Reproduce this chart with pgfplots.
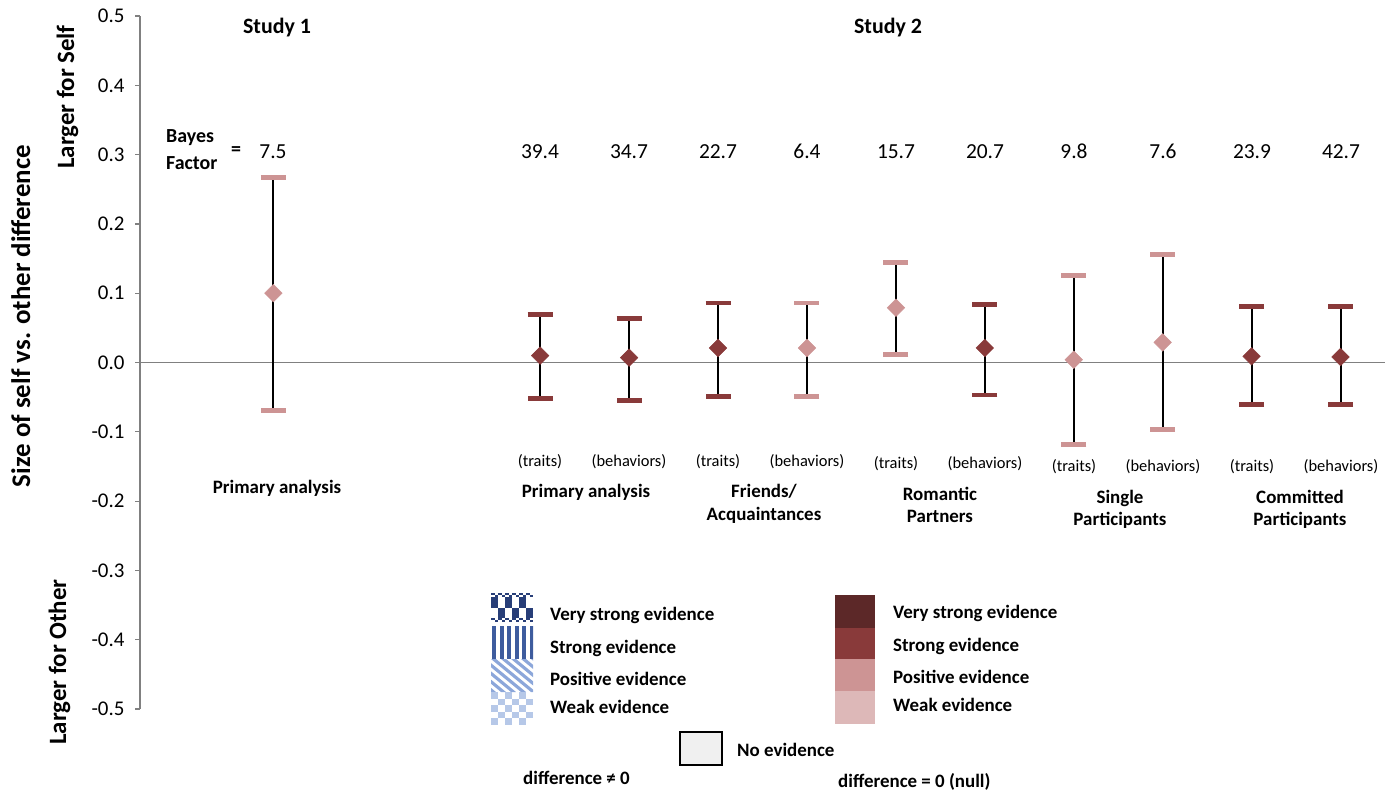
\documentclass[border=0pt]{standalone}
\usepackage{fontspec}
\setmainfont{Carlito}
\usepackage{pgfplots}
\usepackage{pgfplotstable}
\pgfplotsset{compat=1.18}
\newcommand{\fs}[1]{\fontsize{#1}{#1}\selectfont}
\definecolor{vstrong}{RGB}{92,40,40}
\definecolor{strong}{RGB}{137,58,58}
\definecolor{positive}{RGB}{205,148,148}
\definecolor{weak}{RGB}{221,184,184}
\definecolor{axisgray}{RGB}{128,128,128}
\definecolor{bdark}{RGB}{40,62,120}
\definecolor{bmid}{RGB}{62,92,158}
\definecolor{blight}{RGB}{140,167,218}
\definecolor{bpale}{RGB}{182,200,232}

% x = position, y = mean difference, ep/em = distance to upper/lower interval end
\pgfplotstableread{
x  y      ep     em
0  0.100  0.167  0.169
6  0.021  0.065  0.070
7  0.079  0.065  0.067
9  0.004  0.121  0.122
10 0.029  0.127  0.126
}\positivetab
\pgfplotstableread{
x  y      ep     em
3  0.010  0.059  0.062
4  0.007  0.057  0.062
5  0.021  0.065  0.070
8  0.021  0.063  0.068
11 0.009  0.072  0.070
12 0.008  0.073  0.069
}\strongtab

\begin{document}
\begin{tikzpicture}
\useasboundingbox (0,0) rectangle (1392bp,-793bp);
\begin{axis}[
  at={(140bp,-709bp)}, anchor=south west,
  scale only axis, width=1245bp, height=693bp,
  xmin=-1.5, xmax=12.5, ymin=-0.5, ymax=0.5,
  axis x line=none, axis y line*=left,
  y axis line style={axisgray, line width=1.3bp, -},
  xtick=\empty,
  ytick={-0.5,-0.4,-0.3,-0.2,-0.1,0,0.1,0.2,0.3,0.4,0.5},
  yticklabels={-0.5,-0.4,-0.3,-0.2,-0.1,0.0,0.1,0.2,0.3,0.4,0.5},
  tick align=outside, major tick length=5bp,
  tick style={axisgray, line width=1.2bp},
  yticklabel style={font=\fs{21}, text=black, xshift=-7bp},
  clip=false,
]
\addplot[axisgray, line width=1.6bp, forget plot] coordinates {(-1.5,0) (12.5,0)};
\addplot[only marks, mark=none, forget plot,
  error bars/.cd, y dir=both, y explicit,
  error bar style={black, line width=2bp},
  error mark options={rotate=90, positive, line width=4.8bp, mark size=12.5bp}]
  table[x=x, y=y, y error plus=ep, y error minus=em] {\positivetab};
\addplot[only marks, mark=none, forget plot,
  error bars/.cd, y dir=both, y explicit,
  error bar style={black, line width=2bp},
  error mark options={rotate=90, strong, line width=4.8bp, mark size=12.5bp}]
  table[x=x, y=y, y error plus=ep, y error minus=em] {\strongtab};
\addplot[only marks, mark=square*, mark size=6.2bp, color=positive,
  mark options={rotate=45, fill=positive, draw=positive, line width=0.5bp}]
  table[x=x, y=y] {\positivetab};
\addplot[only marks, mark=square*, mark size=6.2bp, color=strong,
  mark options={rotate=45, fill=strong, draw=strong, line width=0.5bp}]
  table[x=x, y=y] {\strongtab};
\end{axis}

\begin{scope}[x=1bp, y=-1bp]
% axis titles
\node[rotate=90, anchor=base, font=\bfseries\fs{27}] at (30,316) {Size of self vs. other difference};
\node[rotate=90, anchor=base, font=\bfseries\fs{25}] at (74,97) {Larger for Self};
\node[rotate=90, anchor=base, font=\bfseries\fs{25}] at (66,662) {Larger for Other};
% study titles
\node[anchor=base, font=\bfseries\fs{22}] at (277,33) {Study 1};
\node[anchor=base, font=\bfseries\fs{22}] at (888,33) {Study 2};
% Bayes factors
\node[anchor=base west, font=\bfseries\fs{20}, inner sep=0] at (166,142.5) {Bayes};
\node[anchor=base west, font=\bfseries\fs{20}, inner sep=0] at (166,169) {Factor};
\node[font=\bfseries\fs{20}, inner sep=0] at (236,151) {=};
\foreach \px/\t in {273/7.5, 540/39.4, 629/34.7, 718/22.7, 807/6.4, 896/15.7, 985/20.7, 1074/9.8, 1163/7.6, 1252/23.9, 1341/42.7}
  \node[anchor=base, font=\fs{21.5}, inner sep=0] at (\px,158) {\t};
% category labels
\node[anchor=base, font=\bfseries\fs{19}, inner sep=0] at (277,493) {Primary analysis};
\foreach \px/\py in {540/466, 718/466, 896/468, 1074/471, 1252/471}
  \node[anchor=base, font=\fs{16.5}, inner sep=0] at (\px,\py) {(traits)};
\foreach \px/\py in {629/466, 807/466, 985/468, 1163/471, 1341/471}
  \node[anchor=base, font=\fs{16.5}, inner sep=0] at (\px,\py) {(behaviors)};
\node[anchor=base, font=\bfseries\fs{19}, inner sep=0] at (586,497) {Primary analysis};
\node[anchor=base, font=\bfseries\fs{19}, inner sep=0] at (764,497) {Friends/};
\node[anchor=base, font=\bfseries\fs{19}, inner sep=0] at (764,520) {Acquaintances};
\node[anchor=base, font=\bfseries\fs{19}, inner sep=0] at (940,500) {Romantic};
\node[anchor=base, font=\bfseries\fs{19}, inner sep=0] at (940,522) {Partners};
\node[anchor=base, font=\bfseries\fs{19}, inner sep=0] at (1120,503) {Single};
\node[anchor=base, font=\bfseries\fs{19}, inner sep=0] at (1120,525) {Participants};
\node[anchor=base, font=\bfseries\fs{19}, inner sep=0] at (1300,503) {Committed};
\node[anchor=base, font=\bfseries\fs{19}, inner sep=0] at (1300,525) {Participants};

% ---- legend: blue patterns (difference != 0)
% very strong: dark checker
\begin{scope}
\clip (491,593) rectangle (533,626);
\fill[white] (491,593) rectangle (533,626);
\foreach \i in {0,...,11} \foreach \j in {0,1} {
  \pgfmathparse{mod(\i+\j,2)==0}
  \ifnum\pgfmathresult=1 \fill[bdark] (491+\i*3.5,593+\j*2) rectangle ++(3.5,2); \fi}
\foreach \i in {0,...,11} \foreach \j in {0,1} {
  \pgfmathparse{mod(\i+\j,2)==0}
  \ifnum\pgfmathresult=1 \fill[bdark] (491+\i*3.5,618+\j*2) rectangle ++(3.5,2); \fi}
\foreach \i in {0,...,5} \foreach \j in {0,1} {
  \pgfmathparse{mod(\i+\j,2)==0}
  \ifnum\pgfmathresult=1 \fill[bdark] (491+\i*7,597+\j*10.5) rectangle ++(7,10.5); \fi}
\end{scope}
% strong: vertical stripes
\begin{scope}
\clip (491,626) rectangle (533,659);
\foreach \i in {0,...,5} \fill[bmid] (492+\i*7.5,626) rectangle ++(4,33);
\end{scope}
% positive: diagonal stripes
\begin{scope}
\clip (491,659) rectangle (533,692);
\foreach \i in {-6,...,4} \fill[blight] (491+\i*10,659) -- ++(5,0) -- ++(40,33) -- ++(-5,0) -- cycle;
\end{scope}
% weak: light checker
\begin{scope}
\clip (491,692) rectangle (533,725);
\foreach \i in {0,...,5} \foreach \j in {0,...,4} {
  \pgfmathparse{mod(\i+\j,2)==0}
  \ifnum\pgfmathresult=1 \fill[bpale] (491+\i*7,692+\j*6.6) rectangle ++(7,6.6); \fi}
\end{scope}
\node[anchor=base west, font=\bfseries\fs{19}, inner sep=0] at (550,620) {Very strong evidence};
\node[anchor=base west, font=\bfseries\fs{19}, inner sep=0] at (550,653) {Strong evidence};
\node[anchor=base west, font=\bfseries\fs{19}, inner sep=0] at (550,685) {Positive evidence};
\node[anchor=base west, font=\bfseries\fs{19}, inner sep=0] at (550,713) {Weak evidence};
% ---- legend: red blocks (difference = 0)
\fill[vstrong] (835,595) rectangle (875,628);
\fill[strong] (835,628) rectangle (875,659);
\fill[positive] (835,659) rectangle (875,691);
\fill[weak] (835,691) rectangle (875,724);
\node[anchor=base west, font=\bfseries\fs{19}, inner sep=0] at (893,618) {Very strong evidence};
\node[anchor=base west, font=\bfseries\fs{19}, inner sep=0] at (893,651) {Strong evidence};
\node[anchor=base west, font=\bfseries\fs{19}, inner sep=0] at (893,683) {Positive evidence};
\node[anchor=base west, font=\bfseries\fs{19}, inner sep=0] at (893,711) {Weak evidence};
% no evidence
\draw[black, line width=1.5bp, fill={rgb,255:red,240;green,240;blue,240}] (680,732) rectangle (722,765);
\node[anchor=base west, font=\bfseries\fs{19}, inner sep=0] at (737,756) {No evidence};
\node[anchor=base west, font=\bfseries\fs{19}, inner sep=0] at (523,784) {difference ≠ 0};
\node[anchor=base west, font=\bfseries\fs{19}, inner sep=0] at (838,787) {difference = 0 (null)};
\end{scope}
\end{tikzpicture}
\end{document}
